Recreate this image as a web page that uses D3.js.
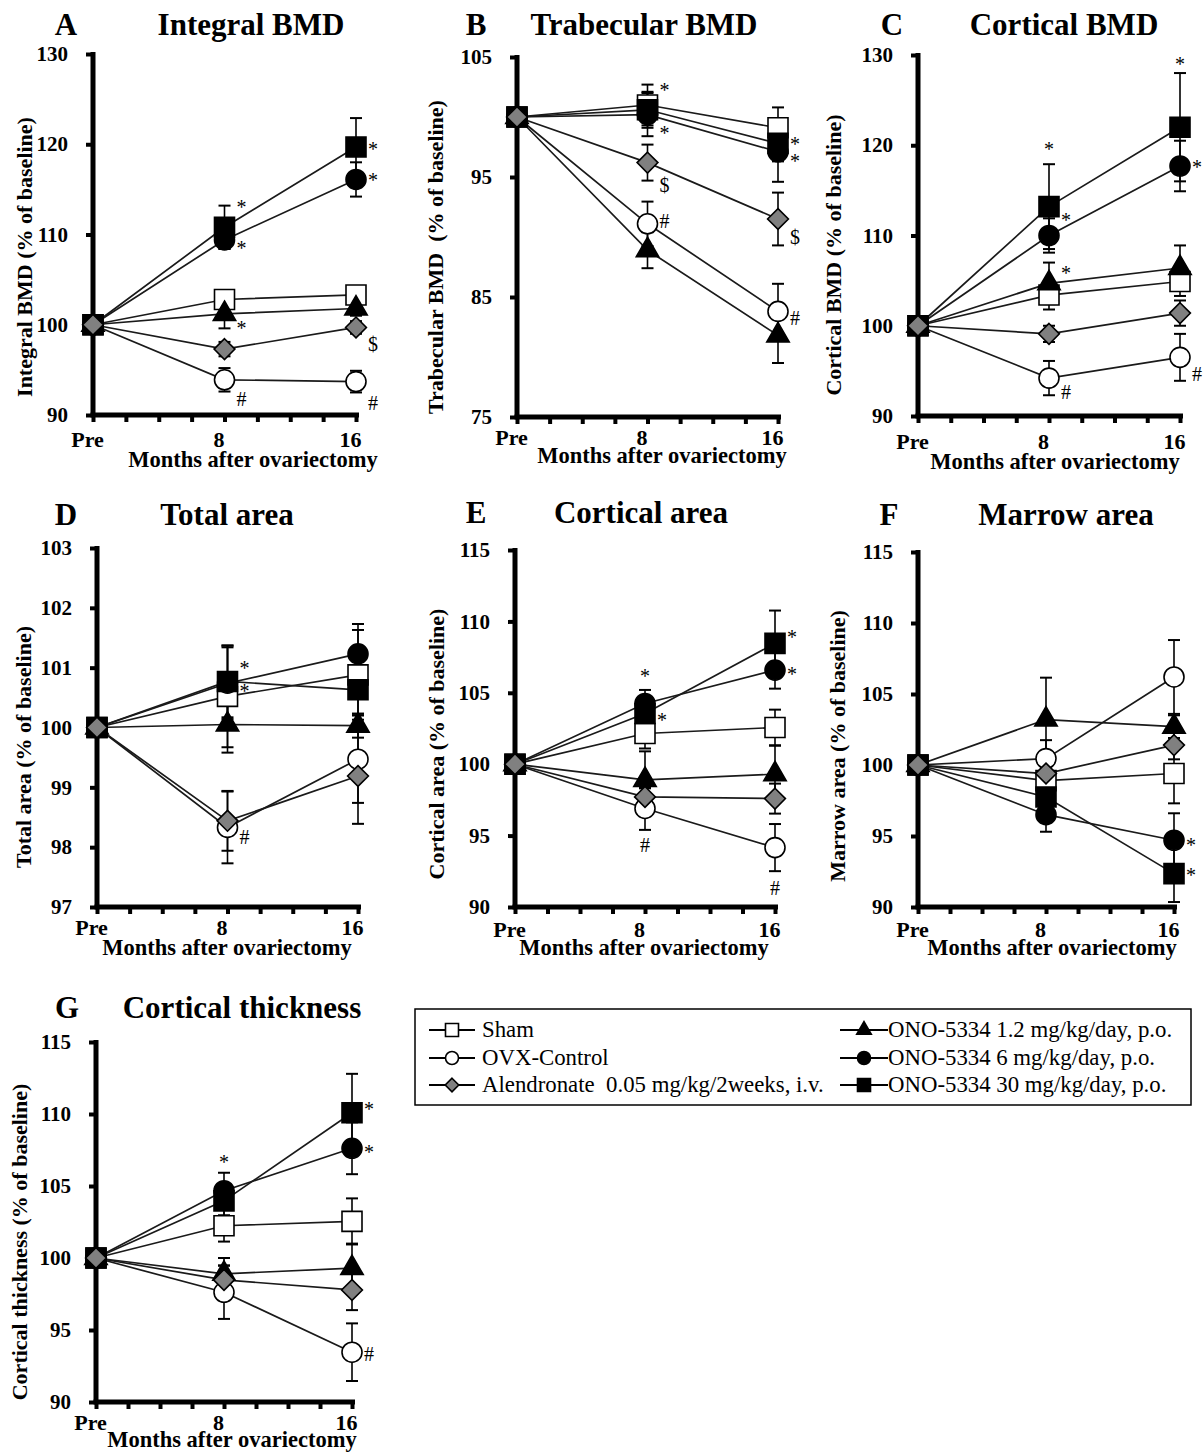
<!DOCTYPE html>
<html>
<head>
<meta charset="utf-8">
<script src="https://cdn.jsdelivr.net/npm/d3@7"></script>
<style>
  body { margin: 0; background: #fff; }
  svg text { font-family: "Liberation Serif", "Times New Roman", Times, serif; white-space: pre; fill: #000; }
</style>
</head>
<body>
<svg id="fig" width="1203" height="1454"></svg>
<script>
// ---------------------------------------------------------------
// Data: % of baseline at Pre, 8 and 16 months after ovariectomy
// ---------------------------------------------------------------
const months = [0, 8, 16];
const monthTickLabels = { 0: "Pre", 8: "8", 16: "16" };
const groups = [
  "Sham",
  "OVX-Control",
  "Alendronate  0.05 mg/kg/2weeks, i.v.",
  "ONO-5334 1.2 mg/kg/day, p.o.",
  "ONO-5334 6 mg/kg/day, p.o.",
  "ONO-5334 30 mg/kg/day, p.o."
];

// rows follow the order of `groups`; columns follow `months`
const integralMean = [
  [100, 102.8, 103.3], [100, 93.9, 93.7], [100, 97.3, 99.7],
  [100, 101.2, 101.8], [100, 109.4, 116.1], [100, 110.8, 119.7]
];
const integralSD = [
  [0, 0.7, 0.8], [0, 1.3, 1.2], [0, 0.8, 0.7],
  [0, 1.6, 0.8], [0, 1.0, 1.9], [0, 2.4, 3.2]
];
const integralTicks = [90, 100, 110, 120, 130];
const integralMarks = [
  [8, 113.4, "*", "r"], [8, 108.8, "*", "r"], [8, 100.0, "*", "r"], [8, 91.7, "#", "r"],
  [16, 119.8, "*", "r"], [16, 116.4, "*", "r"], [16, 97.8, "$", "r"], [16, 91.3, "#", "r"]
];

const trabecularMean = [
  [100, 101.0, 99.1], [100, 91.1, 83.8], [100, 96.2, 91.5],
  [100, 88.9, 81.8], [100, 100.2, 97.1], [100, 100.6, 97.8]
];
const trabecularSD = [
  [0, 1.7, 1.7], [0, 1.85, 2.3], [0, 1.5, 2.2],
  [0, 1.5, 2.3], [0, 1.8, 2.5], [0, 1.5, 1.5]
];
const trabecularTicks = [75, 85, 95, 105];
const trabecularMarks = [
  [8, 102.5, "*", "r"], [8, 98.9, "*", "r"], [8, 94.3, "$", "r"], [8, 91.3, "#", "r"],
  [16, 98.0, "*", "r"], [16, 96.6, "*", "r"], [16, 90.0, "$", "r"], [16, 83.2, "#", "r"]
];

const corticalBmdMean = [
  [100, 103.4, 104.9], [100, 94.2, 96.5], [100, 99.1, 101.4],
  [100, 104.7, 106.4], [100, 110.0, 117.7], [100, 113.2, 122.0]
];
const corticalBmdSD = [
  [0, 1.6, 1.6], [0, 1.9, 2.6], [0, 0.9, 1.4],
  [0, 2.3, 2.5], [0, 1.9, 2.8], [0, 4.7, 6.0]
];
const corticalBmdTicks = [90, 100, 110, 120, 130];
const corticalBmdMarks = [
  [8, 119.9, "*", "c"], [8, 112.0, "*", "r"], [8, 106.2, "*", "r"], [8, 92.6, "#", "r"],
  [16, 129.3, "*", "c"], [16, 117.9, "*", "r"], [16, 94.6, "#", "r"]
];

const totalAreaMean = [
  [100, 100.52, 100.88], [100, 98.33, 99.47], [100, 98.44, 99.19],
  [100, 100.05, 100.03], [100, 100.74, 101.23], [100, 100.77, 100.63]
];
const totalAreaSD = [
  [0, 0.85, 0.75], [0, 0.6, 0.73], [0, 0.5, 0.8],
  [0, 0.47, 0.2], [0, 0.6, 0.5], [0, 0.6, 0.4]
];
const totalAreaTicks = [97, 98, 99, 100, 101, 102, 103];
const totalAreaMarks = [
  [8, 101.05, "*", "r"], [8, 100.66, "*", "r"], [8, 98.17, "#", "r"]
];

const corticalAreaMean = [
  [100, 102.15, 102.57], [100, 96.9, 94.16], [100, 97.71, 97.59],
  [100, 98.9, 99.3], [100, 104.25, 106.59], [100, 103.55, 108.46]
];
const corticalAreaSD = [
  [0, 1.05, 1.25], [0, 1.5, 1.65], [0, 0.6, 1.05],
  [0, 2.0, 2.0], [0, 0.95, 1.3], [0, 0.8, 2.3]
];
const corticalAreaTicks = [90, 95, 100, 105, 110, 115];
const corticalAreaMarks = [
  [8, 106.36, "*", "c"], [8, 103.3, "*", "r"], [8, 94.3, "#", "c"],
  [16, 109.1, "*", "r"], [16, 106.5, "*", "r"], [16, 91.3, "#", "c"]
];

const marrowAreaMean = [
  [100, 98.9, 99.4], [100, 100.45, 106.2], [100, 99.4, 101.4],
  [100, 103.2, 102.7], [100, 96.5, 94.7], [100, 97.75, 92.35]
];
const marrowAreaSD = [
  [0, 0.8, 2.1], [0, 1.3, 2.6], [0, 0.8, 1.0],
  [0, 2.95, 0.8], [0, 1.2, 1.9], [0, 0.8, 2.0]
];
const marrowAreaTicks = [90, 95, 100, 105, 110, 115];
const marrowAreaMarks = [
  [16, 94.58, "*", "r"], [16, 92.46, "*", "r"]
];

const thicknessMean = [
  [100, 102.24, 102.54], [100, 97.62, 93.46], [100, 98.48, 97.78],
  [100, 98.9, 99.3], [100, 104.67, 107.62], [100, 103.97, 110.09]
];
const thicknessSD = [
  [0, 1.1, 1.6], [0, 1.85, 2.0], [0, 1.0, 1.4],
  [0, 1.1, 1.7], [0, 1.25, 1.8], [0, 1.0, 2.7]
];
const thicknessTicks = [90, 95, 100, 105, 110, 115];
const thicknessMarks = [
  [8, 106.86, "*", "c"], [16, 110.55, "*", "r"], [16, 107.55, "*", "r"], [16, 93.35, "#", "r"]
];

// ---------------------------------------------------------------
// Panel descriptions
// ---------------------------------------------------------------
const panels = [
  { key: "A", title: "Integral BMD", ylabel: "Integral BMD (% of baseline)",
    mean: integralMean, sd: integralSD, ticks: integralTicks, marks: integralMarks },
  { key: "B", title: "Trabecular BMD", ylabel: "Trabecular BMD  (% of baseline)",
    mean: trabecularMean, sd: trabecularSD, ticks: trabecularTicks, marks: trabecularMarks },
  { key: "C", title: "Cortical BMD", ylabel: "Cortical BMD (% of baseline)",
    mean: corticalBmdMean, sd: corticalBmdSD, ticks: corticalBmdTicks, marks: corticalBmdMarks },
  { key: "D", title: "Total area", ylabel: "Total area (% of baseline)",
    mean: totalAreaMean, sd: totalAreaSD, ticks: totalAreaTicks, marks: totalAreaMarks },
  { key: "E", title: "Cortical area", ylabel: "Cortical area (% of baseline)",
    mean: corticalAreaMean, sd: corticalAreaSD, ticks: corticalAreaTicks, marks: corticalAreaMarks },
  { key: "F", title: "Marrow area", ylabel: "Marrow area (% of baseline)",
    mean: marrowAreaMean, sd: marrowAreaSD, ticks: marrowAreaTicks, marks: marrowAreaMarks },
  { key: "G", title: "Cortical thickness", ylabel: "Cortical thickness (% of baseline)",
    mean: thicknessMean, sd: thicknessSD, ticks: thicknessTicks, marks: thicknessMarks }
];

// Page geometry of each panel (axis origin, 16-month position, plot top/bottom, text anchors)
const layout = {
  A: { x0: 93,  x16: 356,  yTop: 54,   yBot: 415,  letterX: 66,  titleX: 251,  titleY: 35,   ylabX: 24,  ylabY: 257,  tickY: 32, xlabX: 253,  xlabY: 467 },
  B: { x0: 517, x16: 778,  yTop: 57,   yBot: 417,  letterX: 476, titleX: 644,  titleY: 35,   ylabX: 435, ylabY: 257,  tickY: 28, xlabX: 662,  xlabY: 463 },
  C: { x0: 918, x16: 1180, yTop: 55,   yBot: 416,  letterX: 892, titleX: 1064, titleY: 35,   ylabX: 833, ylabY: 255,  tickY: 33, xlabX: 1055, xlabY: 469 },
  D: { x0: 97,  x16: 358,  yTop: 548,  yBot: 907,  letterX: 66,  titleX: 227,  titleY: 525,  ylabX: 23,  ylabY: 747,  tickY: 28, xlabX: 227,  xlabY: 955 },
  E: { x0: 515, x16: 775,  yTop: 550,  yBot: 907,  letterX: 476, titleX: 641,  titleY: 523,  ylabX: 436, ylabY: 744,  tickY: 30, xlabX: 644,  xlabY: 955 },
  F: { x0: 918, x16: 1174, yTop: 552,  yBot: 907,  letterX: 889, titleX: 1066, titleY: 525,  ylabX: 837, ylabY: 746,  tickY: 30, xlabX: 1052, xlabY: 955 },
  G: { x0: 96,  x16: 352,  yTop: 1042, yBot: 1402, letterX: 67,  titleX: 242,  titleY: 1018, ylabX: 19,  ylabY: 1242, tickY: 28, xlabX: 232,  xlabY: 1447 }
};

// Marker style for each group
const groupShape = ["square", "circle", "diamond", "triangle", "circle", "square"];
const groupFill  = ["#ffffff", "#ffffff", "#808080", "#000000", "#000000", "#000000"];
const drawOrder  = [0, 1, 3, 4, 5, 2];

const FONT = '"Liberation Serif", "Times New Roman", Times, serif';
const svg = d3.select("#fig");
svg.append("rect").attr("width", 1203).attr("height", 1454).attr("fill", "#fff");

function markerPath(shape, s) {
  const h = s / 2;
  if (shape === "square") return `M${-h},${-h}H${h}V${h}H${-h}Z`;
  if (shape === "diamond") {
    const d = s * 0.52;
    return `M0,${-d}L${d},0L0,${d}L${-d},0Z`;
  }
  if (shape === "triangle") {
    const side = s * 1.12, ht = side * Math.sqrt(3) / 2;
    return `M0,${-ht * 2 / 3}L${side / 2},${ht / 3}L${-side / 2},${ht / 3}Z`;
  }
  return null;
}

function drawMarker(g, gi, cx, cy, s) {
  const shape = groupShape[gi];
  if (shape === "circle") {
    g.append("circle").attr("cx", cx).attr("cy", cy).attr("r", s / 2)
      .attr("fill", groupFill[gi]).attr("stroke", "#000").attr("stroke-width", 1.6);
  } else {
    g.append("path").attr("d", markerPath(shape, s))
      .attr("transform", `translate(${cx},${cy})`)
      .attr("fill", groupFill[gi]).attr("stroke", "#000").attr("stroke-width", 1.6)
      .attr("stroke-linejoin", "miter");
  }
}

// vertical offset that puts each annotation glyph's visual centre on its value
const glyphLift = { "*": 0.5, "#": 0.34, "$": 0.33 };
const MARK_SIZE = 20;

panels.forEach(p => {
  const L = layout[p.key];
  const x = d3.scaleLinear().domain([0, 16]).range([L.x0, L.x16]);
  const y = d3.scaleLinear().domain(d3.extent(p.ticks)).range([L.yBot, L.yTop]);
  const g = svg.append("g").attr("class", "panel-" + p.key).attr("font-family", FONT);

  // y axis ticks and labels
  const ga = g.append("g").attr("transform", `translate(${L.x0},0)`)
    .call(d3.axisLeft(y).tickValues(p.ticks).tickFormat(d3.format("d"))
      .tickSize(7).tickPadding(18).tickSizeOuter(0));
  ga.select(".domain").remove();
  ga.selectAll(".tick line").attr("stroke", "#000").attr("stroke-width", 4);
  ga.selectAll(".tick text").attr("fill", "#000").attr("font-size", 21)
    .attr("font-weight", "bold").attr("font-family", FONT);

  // x axis: a tick every 2 months, labels at Pre / 8 / 16
  const gx = g.append("g").attr("transform", `translate(0,${L.yBot})`)
    .call(d3.axisBottom(x).tickValues(d3.range(0, 17, 2)).tickSize(7).tickSizeOuter(0)
      .tickFormat(d => monthTickLabels[d] || ""));
  gx.select(".domain").remove();
  gx.selectAll(".tick line").attr("stroke", "#000").attr("stroke-width", 4);
  gx.selectAll(".tick text").attr("fill", "#000").attr("font-size", 22)
    .attr("font-weight", "bold").attr("font-family", FONT)
    .attr("y", L.tickY).attr("dy", null).attr("dx", -6);

  // heavy axis lines
  g.append("line").attr("x1", L.x0).attr("x2", L.x0).attr("y1", L.yTop - 2).attr("y2", L.yBot)
    .attr("stroke", "#000").attr("stroke-width", 5);
  g.append("line").attr("x1", L.x0 - 2.5).attr("x2", L.x16 + 3).attr("y1", L.yBot).attr("y2", L.yBot)
    .attr("stroke", "#000").attr("stroke-width", 5);

  // titles
  g.append("text").attr("x", L.letterX).attr("y", L.titleY).attr("text-anchor", "middle")
    .attr("font-size", 31).attr("font-weight", "bold").text(p.key);
  g.append("text").attr("x", L.titleX).attr("y", L.titleY).attr("text-anchor", "middle")
    .attr("font-size", 31).attr("font-weight", "bold").text(p.title);
  g.append("text").attr("transform", `translate(${L.ylabX},${L.ylabY}) rotate(-90)`)
    .attr("text-anchor", "middle").attr("dominant-baseline", "central")
    .attr("font-size", 22).attr("font-weight", "bold").text(p.ylabel);
  g.append("text").attr("x", L.xlabX).attr("y", L.xlabY).attr("text-anchor", "middle")
    .attr("font-size", 22.5).attr("font-weight", "bold").text("Months after ovariectomy");

  // error bars (mean ± SD)
  const eb = g.append("g");
  p.mean.forEach((row, gi) => {
    row.forEach((v, ti) => {
      const s = p.sd[gi][ti];
      if (!s) return;
      const cx = x(months[ti]);
      eb.append("line").attr("x1", cx).attr("x2", cx).attr("y1", y(v - s)).attr("y2", y(v + s))
        .attr("stroke", "#000").attr("stroke-width", 1.6);
      [v - s, v + s].forEach(e => {
        eb.append("line").attr("x1", cx - 6).attr("x2", cx + 6).attr("y1", y(e)).attr("y2", y(e))
          .attr("stroke", "#000").attr("stroke-width", 2);
      });
    });
  });

  // connecting lines
  const line = d3.line().x((d, i) => x(months[i])).y(d => y(d));
  p.mean.forEach(row => {
    g.append("path").attr("d", line(row)).attr("fill", "none")
      .attr("stroke", "#1a1a1a").attr("stroke-width", 1.7);
  });

  // markers
  drawOrder.forEach(gi => {
    p.mean[gi].forEach((v, ti) => drawMarker(g, gi, x(months[ti]), y(v), MARK_SIZE));
  });

  // significance symbols
  p.marks.forEach(([t, v, sym, pos]) => {
    g.append("text")
      .attr("x", pos === "r" ? x(t) + 17 : x(t))
      .attr("y", y(v) + glyphLift[sym] * 20)
      .attr("text-anchor", "middle").attr("font-size", 20).attr("fill", "#111")
      .text(sym);
  });
});

// ---------------------------------------------------------------
// Legend
// ---------------------------------------------------------------
const lg = svg.append("g").attr("class", "legend").attr("font-family", FONT);
lg.append("rect").attr("x", 415).attr("y", 1009).attr("width", 776).attr("height", 96)
  .attr("fill", "#fff").attr("stroke", "#000").attr("stroke-width", 1.5);
const legendCols = [{ lineX1: 429, lineX2: 475, textX: 482 }, { lineX1: 840, lineX2: 888, textX: 888 }];
const legendRowY = [1030, 1058, 1085];
groups.forEach((name, gi) => {
  const col = legendCols[Math.floor(gi / 3)];
  const ry = legendRowY[gi % 3];
  lg.append("line").attr("x1", col.lineX1).attr("x2", col.lineX2).attr("y1", ry).attr("y2", ry)
    .attr("stroke", "#000").attr("stroke-width", 2);
  drawMarker(lg, gi, (col.lineX1 + col.lineX2) / 2, ry, 13);
  lg.append("text").attr("x", col.textX).attr("y", ry + 7).attr("font-size", 22.8)
    .attr("font-family", FONT).attr("fill", "#000").text(name);
});
</script>
</body>
</html>
